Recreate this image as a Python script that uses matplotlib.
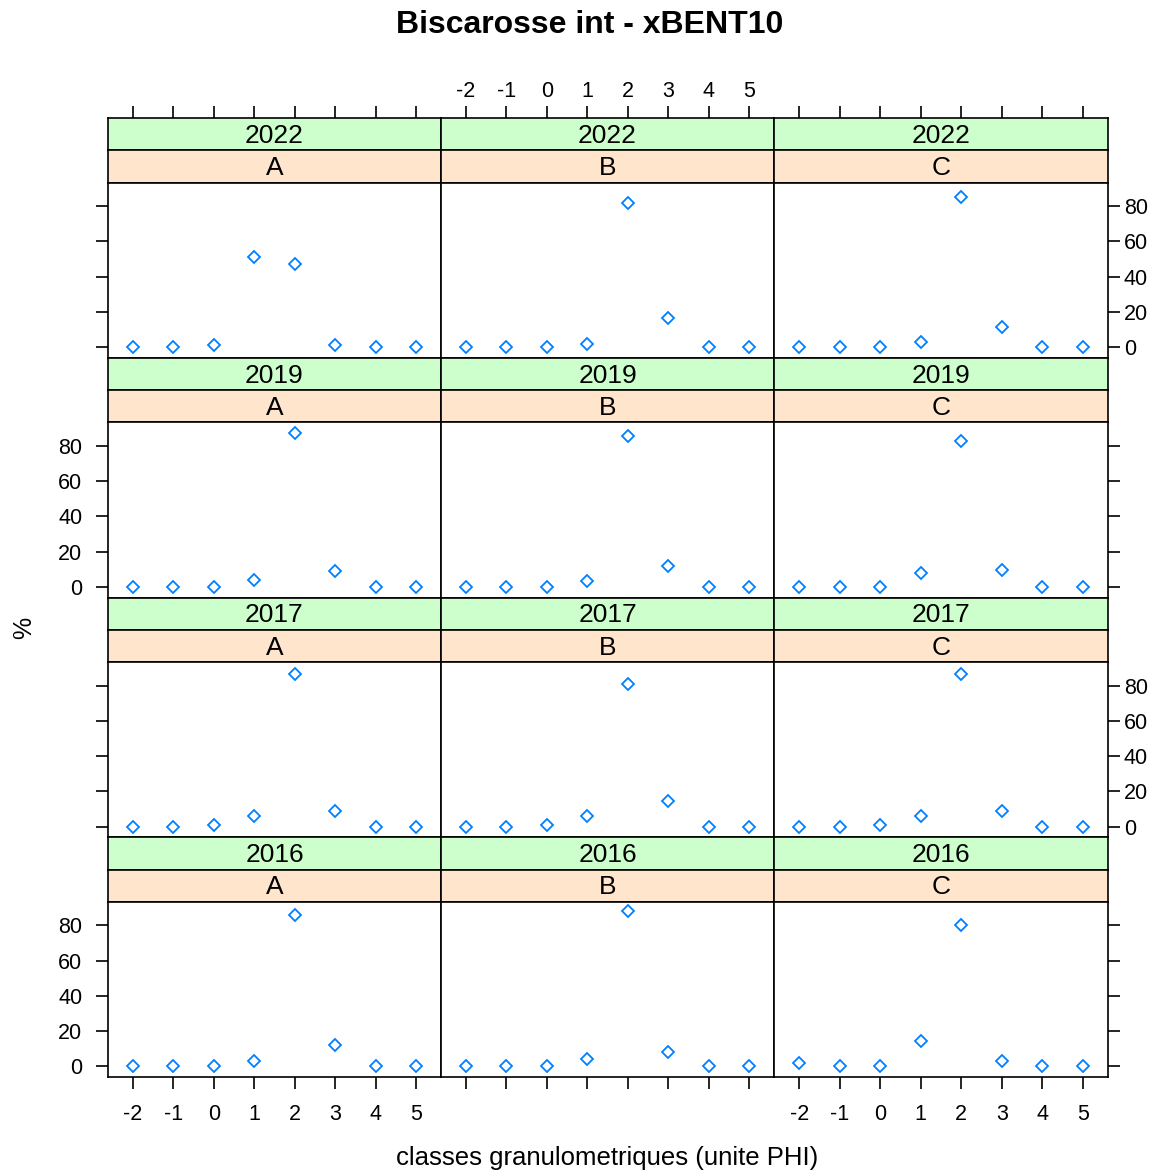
import matplotlib
matplotlib.use("Agg")
import matplotlib.pyplot as plt

plt.rcParams['font.family'] = ['Liberation Sans', 'DejaVu Sans']

W, H = 1165, 1176

classes = [-2, -1, 0, 1, 2, 3, 4, 5]
years = ['2022', '2019', '2017', '2016']
stations = ['A', 'B', 'C']

# % par classe granulometrique, une liste par station (A, B, C)
pct_2022 = [[0, 0, 1.0, 50.8, 46.9, 1.0, 0, 0],
            [0, 0, 0, 1.9, 82.0, 16.4, 0, 0],
            [0, 0, 0, 3.0, 85.0, 11.6, 0, 0]]
pct_2019 = [[0, 0, 0, 4.0, 87.2, 8.7, 0, 0],
            [0, 0, 0, 3.0, 85.3, 11.5, 0, 0],
            [0, 0, 0, 7.8, 82.6, 9.6, 0, 0]]
pct_2017 = [[0, 0, 0.9, 5.7, 86.8, 8.8, 0, 0],
            [0, 0, 1.0, 5.7, 80.8, 14.4, 0, 0],
            [0, 0, 1.0, 5.7, 86.5, 8.6, 0, 0]]
pct_2016 = [[0, 0, 0, 3.2, 86.1, 11.8, 0, 0],
            [0, 0, 0, 4.0, 87.9, 7.9, 0, 0],
            [2.1, 0, 0, 14.6, 80.4, 3.1, 0, 0]]
pct = [pct_2022, pct_2019, pct_2017, pct_2016]

yticks = [0, 20, 40, 60, 80]
xlim = (-2.62, 5.62)
ylim = (-6.1, 93.3)

col_x = [108, 441, 774, 1108]
top, bottom = 118, 1077
row_h = (bottom - top) / 4
strip_h = 32.3

GREEN = '#ccffcc'
ORANGE = '#ffe5cc'
BLUE = '#0080ff'
tick_fs = 15.5
strip_fs = 19
tick_len = 8.5


def box(x0, y0, x1, y1):
    return [x0 / W, 1 - y1 / H, (x1 - x0) / W, (y1 - y0) / H]


fig = plt.figure(figsize=(W / 100, H / 100), dpi=100)


def frame(ax):
    for s in ax.spines.values():
        s.set_linewidth(1.2)
        s.set_color('black')


for r in range(4):
    y0 = top + r * row_h
    for c in range(3):
        x0, x1 = col_x[c], col_x[c + 1]
        # bandeaux : annee puis station
        for k, (lab, fc) in enumerate([(years[r], GREEN), (stations[c], ORANGE)]):
            s = fig.add_axes(box(x0, y0 + k * strip_h, x1, y0 + (k + 1) * strip_h))
            s.set_facecolor(fc)
            s.set_xlim(xlim)
            s.set_ylim(0, 1)
            s.set_yticks([])
            frame(s)
            s.text(0.5, 0.45, lab, transform=s.transAxes, ha='center', va='center',
                   fontsize=strip_fs)
            if r == 0 and k == 0:
                s.xaxis.set_ticks_position('top')
                s.set_xticks(classes)
                s.set_xticklabels([str(v) for v in classes] if c == 1 else [])
                s.tick_params(axis='x', direction='out', length=tick_len, width=1.2,
                              labelsize=tick_fs, pad=3)
            else:
                s.set_xticks([])

        ax = fig.add_axes(box(x0, y0 + 2 * strip_h, x1, y0 + row_h))
        ax.plot(classes, pct[r][c], linestyle='none', marker='D', markersize=5.8,
                markerfacecolor='none', markeredgecolor=BLUE, markeredgewidth=1.3)
        ax.set_xlim(xlim)
        ax.set_ylim(ylim)
        frame(ax)

        if r == 3:
            ax.set_xticks(classes)
            ax.set_xticklabels([str(v) for v in classes] if c != 1 else [])
            ax.tick_params(axis='x', direction='out', length=tick_len, width=1.2,
                           labelsize=tick_fs, pad=11)
        else:
            ax.set_xticks([])

        if c == 0:
            ax.set_yticks(yticks)
            ax.set_yticklabels([str(v) for v in yticks] if r in (1, 3) else [])
            ax.tick_params(axis='y', direction='out', length=tick_len, width=1.2,
                           labelsize=tick_fs, pad=10)
        elif c == 2:
            ax.yaxis.set_ticks_position('right')
            ax.set_yticks(yticks)
            ax.set_yticklabels([str(v) for v in yticks] if r in (0, 2) else [])
            ax.tick_params(axis='y', direction='out', length=tick_len, width=1.2,
                           labelsize=tick_fs, pad=3)
        else:
            ax.set_yticks([])

fig.text(590 / W, 1 - 25 / H, 'Biscarosse int - xBENT10', ha='center', va='center',
         fontsize=23, fontweight='bold')
fig.text(607 / W, 1 - 1158 / H, 'classes granulometriques (unite PHI)', ha='center',
         va='center', fontsize=18.5)
fig.text(24 / W, 1 - 628 / H, '%', ha='center', va='center', rotation=90, fontsize=18)

fig.savefig('out.png', dpi=100)
